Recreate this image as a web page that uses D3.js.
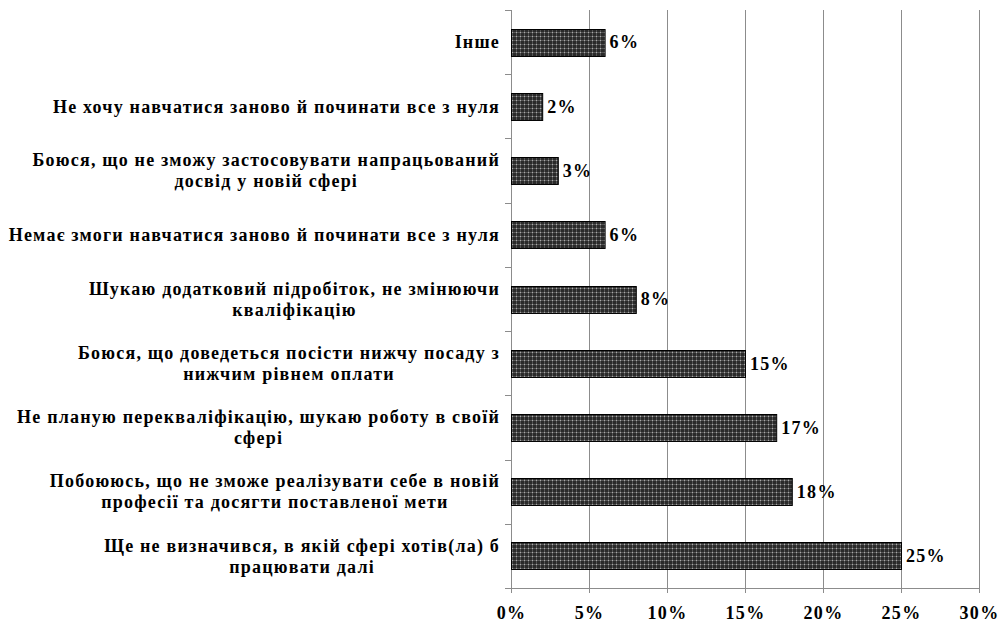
<!DOCTYPE html>
<html><head><meta charset="utf-8">
<script src="https://cdn.jsdelivr.net/npm/d3@7"></script>
<style>body{margin:0;background:#fff}svg{display:block}</style>
</head><body>
<svg id="c" width="1001" height="628"></svg>
<script>
const categories = [
  "Інше",
  "Не хочу навчатися заново й починати все з нуля",
  "Боюся, що не зможу застосовувати напрацьований\nдосвід у новій сфері",
  "Немає змоги навчатися заново й починати все з нуля",
  "Шукаю додатковий підробіток, не змінюючи\nкваліфікацію",
  "Боюся, що доведеться посісти нижчу посаду з\nнижчим рівнем оплати",
  "Не планую перекваліфікацію, шукаю роботу в своїй\nсфері",
  "Побоююсь, що не зможе реалізувати себе в новій\nпрофесії та досягти поставленої мети",
  "Ще не визначився, в якій сфері хотів(ла) б\nпрацювати далі"
];
const values = [6, 2, 3, 6, 8, 15, 17, 18, 25];
const xTicks = [0, 5, 10, 15, 20, 25, 30];

const svg = d3.select("#c");
const m = {left: 511, right: 979, top: 10, bottom: 588};
const x = d3.scaleLinear().domain([0, 30]).range([m.left, m.right]);
const y = d3.scaleBand().domain(categories).range([m.top, m.bottom]).paddingInner(0.58).paddingOuter(0.29);
const font = "'Liberation Serif','Times New Roman',serif";

const defs = svg.append("defs");
const pat = defs.append("pattern").attr("id","dots").attr("patternUnits","userSpaceOnUse").attr("width",4).attr("height",4);
pat.append("rect").attr("width",4).attr("height",4).attr("fill","#2a2a2a");
pat.append("rect").attr("x",0).attr("y",0).attr("width",4).attr("height",1).attr("fill","#555");
pat.append("rect").attr("x",0).attr("y",0).attr("width",1).attr("height",4).attr("fill","#555");
pat.append("rect").attr("x",0).attr("y",0).attr("width",1).attr("height",1).attr("fill","#aaa");

// gridlines
svg.append("g").selectAll("line").data(xTicks.filter(d => d > 0)).join("line")
  .attr("x1", d => Math.round(x(d)) + 0.5).attr("x2", d => Math.round(x(d)) + 0.5)
  .attr("y1", m.top).attr("y2", m.bottom)
  .attr("stroke", "#8c8c8c").attr("stroke-width", 1);

// bottom axis
const xAxis = svg.append("g").attr("transform", `translate(0,${m.bottom})`)
  .call(d3.axisBottom(x).tickValues(xTicks).tickFormat(d => d + "%").tickSize(5).tickPadding(13));
xAxis.select(".domain").attr("stroke", "#8c8c8c");
xAxis.selectAll(".tick line").attr("stroke", "#8c8c8c");
xAxis.selectAll("text").attr("font-family", font).attr("font-weight", "bold")
  .attr("font-size", "18px").attr("letter-spacing", "1.3px").attr("fill", "#000");

// left axis line + ticks at band boundaries
const bounds = categories.map(c => y(c) - y.step() * y.paddingInner() / 2);
bounds.push(m.bottom);
svg.append("line").attr("x1", m.left + 0.5).attr("x2", m.left + 0.5).attr("y1", m.top).attr("y2", m.bottom)
  .attr("stroke", "#8c8c8c");
svg.append("g").selectAll("line").data(bounds).join("line")
  .attr("x1", m.left - 6).attr("x2", m.left).attr("y1", d => Math.round(d) + 0.5).attr("y2", d => Math.round(d) + 0.5)
  .attr("stroke", "#8c8c8c");

// bars
svg.append("g").selectAll("rect").data(values).join("rect")
  .attr("x", x(0) + 0.5).attr("y", (d, i) => Math.round(y(categories[i])) + 0.5)
  .attr("width", d => x(d) - x(0)).attr("height", y.bandwidth())
  .attr("fill", "url(#dots)").attr("stroke", "#000").attr("stroke-width", 1);

// value labels
svg.append("g").selectAll("text").data(values).join("text")
  .attr("x", d => x(d) + 5).attr("y", (d, i) => y(categories[i]) + y.bandwidth() / 2)
  .attr("dy", "0.35em").attr("font-family", font).attr("font-weight", "bold")
  .attr("font-size", "18px").attr("letter-spacing", "1.3px").text(d => d + "%");

// category labels: block right-aligned, lines centered in block
const lab = svg.append("g");
categories.forEach(c => {
  const lines = c.split("\n");
  const cy = y(c) + y.bandwidth() / 2;
  const g = lab.append("g");
  const texts = lines.map((ln, i) => g.append("text")
    .attr("font-family", font).attr("font-weight", "bold").attr("font-size", "18px")
    .attr("letter-spacing", "1.2px").attr("text-anchor", "middle")
    .attr("y", cy + (i - (lines.length - 1) / 2) * 21).attr("dy", "0.35em").text(ln));
  const w = d3.max(texts, t => t.node().getComputedTextLength());
  const right = 500;
  texts.forEach(t => t.attr("x", right - w / 2));
});
</script>
</body></html>
